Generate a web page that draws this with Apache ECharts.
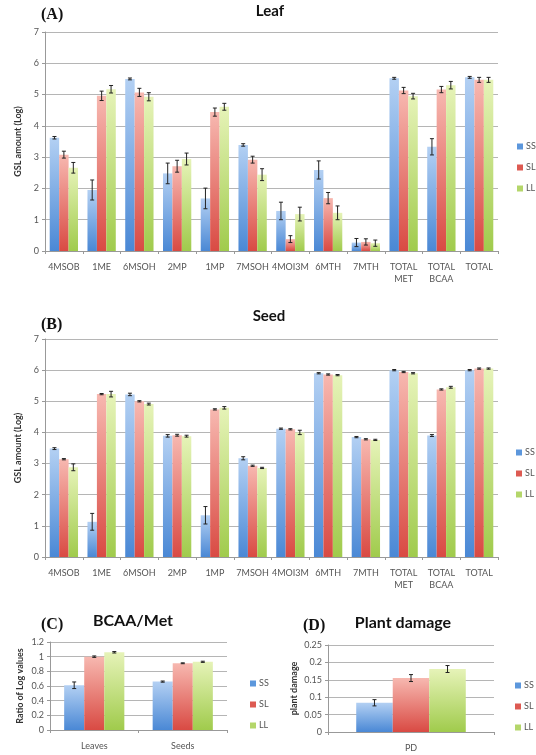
<!DOCTYPE html>
<html><head><meta charset="utf-8">
<script src="https://cdn.jsdelivr.net/npm/echarts@6/dist/echarts.min.js"></script>
<style>html,body{margin:0;padding:0;background:#fff}#c{width:536px;height:755px}</style>
</head><body><div id="c"></div>
<script>
const seriesNames = ['SS', 'SL', 'LL'];
const gslCategories = ['4MSOB', '1ME', '6MSOH', '2MP', '1MP', '7MSOH', '4MOI3M', '6MTH', '7MTH', 'TOTAL\nMET', 'TOTAL\nBCAA', 'TOTAL'];

const leafSS = [3.62, 1.95, 5.50, 2.48, 1.68, 3.39, 1.28, 2.59, 0.27, 5.52, 3.33, 5.55];
const leafSL = [3.08, 4.96, 5.07, 2.71, 4.44, 2.92, 0.38, 1.69, 0.29, 5.13, 5.16, 5.47];
const leafLL = [2.66, 5.17, 4.93, 2.94, 4.61, 2.44, 1.18, 1.22, 0.25, 4.95, 5.30, 5.47];
const leafSSerr = [0.04, 0.32, 0.03, 0.33, 0.33, 0.04, 0.28, 0.29, 0.13, 0.03, 0.26, 0.03];
const leafSLerr = [0.11, 0.15, 0.13, 0.19, 0.13, 0.11, 0.11, 0.18, 0.10, 0.10, 0.10, 0.08];
const leafLLerr = [0.17, 0.12, 0.13, 0.19, 0.11, 0.19, 0.22, 0.22, 0.10, 0.09, 0.12, 0.08];

const seedSS = [3.48, 1.13, 5.22, 3.89, 1.34, 3.17, 4.12, 5.90, 3.85, 6.00, 3.90, 6.00];
const seedSL = [3.14, 5.23, 5.00, 3.91, 4.74, 2.93, 4.10, 5.86, 3.78, 5.94, 5.38, 6.05];
const seedLL = [2.88, 5.23, 4.91, 3.88, 4.79, 2.86, 4.00, 5.84, 3.76, 5.90, 5.45, 6.05];
const seedSSerr = [0.03, 0.27, 0.04, 0.04, 0.28, 0.05, 0.02, 0.02, 0.02, 0.02, 0.03, 0.02];
const seedSLerr = [0.02, 0.02, 0.02, 0.03, 0.02, 0.02, 0.02, 0.02, 0.02, 0.02, 0.02, 0.02];
const seedLLerr = [0.11, 0.09, 0.03, 0.03, 0.04, 0.02, 0.07, 0.02, 0.02, 0.02, 0.03, 0.02];

const ratioCategories = ['Leaves', 'Seeds'];
const ratioSS = [0.61, 0.66];
const ratioSL = [1.00, 0.91];
const ratioLL = [1.06, 0.93];
const ratioSSerr = [0.045, 0.008];
const ratioSLerr = [0.01, 0.006];
const ratioLLerr = [0.01, 0.008];

const damageCategories = ['PD'];
const damageSS = [0.084];
const damageSL = [0.155];
const damageLL = [0.181];
const damageSSerr = [0.009];
const damageSLerr = [0.010];
const damageLLerr = [0.010];

const G = echarts.graphic.LinearGradient;
const barColors = [
  new G(0, 0, 0, 1, [{offset: 0, color: '#b3d0f3'}, {offset: 1, color: '#4a88d5'}]),
  new G(0, 0, 0, 1, [{offset: 0, color: '#f7b8b0'}, {offset: 1, color: '#d94a43'}]),
  new G(0, 0, 0, 1, [{offset: 0, color: '#e6f3b8'}, {offset: 1, color: '#a0cb4c'}])
];
const legendColors = ['#5c97dc', '#dd5a52', '#b4d66a'];

const axisTextColor = '#555';
const font = 'Lato, "Open Sans", sans-serif';

function makeYAxis(gi, max, interval, name, nameGap, dec) {
  return {
    type: 'value', gridIndex: gi, min: 0, max: max, interval: interval,
    name: name, nameLocation: 'middle', nameGap: nameGap,
    nameTextStyle: {fontSize: 9, fontWeight: 'bold', color: '#333', fontFamily: font},
    axisLine: {show: true, lineStyle: {color: '#999'}},
    axisTick: {show: true, length: 3, lineStyle: {color: '#999'}},
    axisLabel: {fontSize: 9, color: axisTextColor, fontFamily: font, margin: 6,
      formatter: v => dec ? String(+v.toFixed(2)) : String(v)},
    splitLine: {show: true, lineStyle: {color: '#b5b5b5', width: 1}}
  };
}
function makeXAxis(gi, cats) {
  return {
    type: 'category', gridIndex: gi, data: cats,
    axisLine: {show: true, lineStyle: {color: '#999'}},
    axisTick: {show: true, length: 3, lineStyle: {color: '#999'}},
    axisLabel: {fontSize: 9, color: axisTextColor, fontFamily: font, margin: 10, interval: 0, lineHeight: 12}
  };
}

const series = [];
function addPanel(ai, vals, errs, gap) {
  vals.forEach((arr, k) => {
    series.push({
      type: 'bar', name: seriesNames[k], xAxisIndex: ai, yAxisIndex: ai,
      data: arr, barGap: '0%', barCategoryGap: gap,
      itemStyle: {color: barColors[k]}, animation: false
    });
  });
  const gapFrac = parseFloat(gap) / 100;
  vals.forEach((arr, k) => {
    series.push({
      type: 'custom', name: 'err' + seriesNames[k], xAxisIndex: ai, yAxisIndex: ai,
      data: arr.map((v, i) => [i, v, errs[k][i]]),
      encode: {x: 0, y: 1}, z: 10, animation: false,
      renderItem: function (params, api) {
        const i = api.value(0), v = api.value(1), e = api.value(2);
        const band = api.size([1, 0])[0];
        const bw = band * (1 - gapFrac) / 3;
        const cx = api.coord([i, v])[0] + (k - 1) * bw;
        const yt = api.coord([i, v + e])[1];
        const yb = api.coord([i, Math.max(v - e, 0)])[1];
        const cap = 2;
        const st = {stroke: '#222', lineWidth: 1};
        return {type: 'group', children: [
          {type: 'line', shape: {x1: cx, y1: yt, x2: cx, y2: yb}, style: st},
          {type: 'line', shape: {x1: cx - cap, y1: yt, x2: cx + cap, y2: yt}, style: st},
          {type: 'line', shape: {x1: cx - cap, y1: yb, x2: cx + cap, y2: yb}, style: st}
        ]};
      }
    });
  });
}
addPanel(0, [leafSS, leafSL, leafLL], [leafSSerr, leafSLerr, leafLLerr], '25%');
addPanel(1, [seedSS, seedSL, seedLL], [seedSSerr, seedSLerr, seedLLerr], '25%');
addPanel(2, [ratioSS, ratioSL, ratioLL], [ratioSSerr, ratioSLerr, ratioLLerr], '32%');
addPanel(3, [damageSS, damageSL, damageLL], [damageSSerr, damageSLerr, damageLLerr], '34%');

function makeLegend(left, top) {
  return {
    orient: 'vertical', left: left, top: top, itemWidth: 6, itemHeight: 6, itemGap: 12,
    icon: 'rect', selectedMode: false,
    textStyle: {fontSize: 9, color: '#555', fontFamily: font, padding: [0, 0, 0, -2]},
    data: seriesNames.map((n, k) => ({name: n, itemStyle: {color: legendColors[k]}}))
  };
}

const titleStyle = {fontSize: 15, fontWeight: 'bold', color: '#111', fontFamily: font};
const tagStyle = {fontSize: 16, fontWeight: 'bold', color: '#111', fontFamily: '"Liberation Serif", serif'};

const option = {
  animation: false,
  title: [
    {text: 'Leaf', left: 270, top: 4, textAlign: 'center', textStyle: titleStyle, padding: 0},
    {text: '(A)', left: 41, top: 7, textStyle: tagStyle, padding: 0},
    {text: 'Seed', left: 269, top: 309, textAlign: 'center', textStyle: titleStyle, padding: 0},
    {text: '(B)', left: 41, top: 317, textStyle: tagStyle, padding: 0},
    {text: 'BCAA/Met', left: 133, top: 613, textAlign: 'center', textStyle: Object.assign({}, titleStyle, {fontSize: 16}), padding: 0},
    {text: '(C)', left: 41, top: 617, textStyle: tagStyle, padding: 0},
    {text: 'Plant damage', left: 403, top: 615, textAlign: 'center', textStyle: Object.assign({}, titleStyle, {fontSize: 16}), padding: 0},
    {text: '(D)', left: 303, top: 618, textStyle: tagStyle, padding: 0}
  ],
  grid: [
    {left: 45, right: 38, top: 32, bottom: 504},
    {left: 45, right: 38, top: 339, bottom: 198},
    {left: 50, right: 309, top: 642, bottom: 25},
    {left: 328, right: 42, top: 645, bottom: 23}
  ],
  xAxis: [makeXAxis(0, gslCategories), makeXAxis(1, gslCategories), makeXAxis(2, ratioCategories), makeXAxis(3, damageCategories)],
  yAxis: [
    makeYAxis(0, 7, 1, 'GSL amount (Log)', 16, false),
    makeYAxis(1, 7, 1, 'GSL amount (Log)', 16, false),
    makeYAxis(2, 1.2, 0.2, 'Ratio of Log values', 25, true),
    makeYAxis(3, 0.25, 0.05, 'plant damage', 29, true)
  ],
  legend: [makeLegend(512, 137), makeLegend(511, 443), makeLegend(245, 674), makeLegend(510, 676)],
  series: series
};
const chart = echarts.init(document.getElementById('c'), null, {renderer: 'canvas'});
chart.setOption(option);
</script></body></html>
